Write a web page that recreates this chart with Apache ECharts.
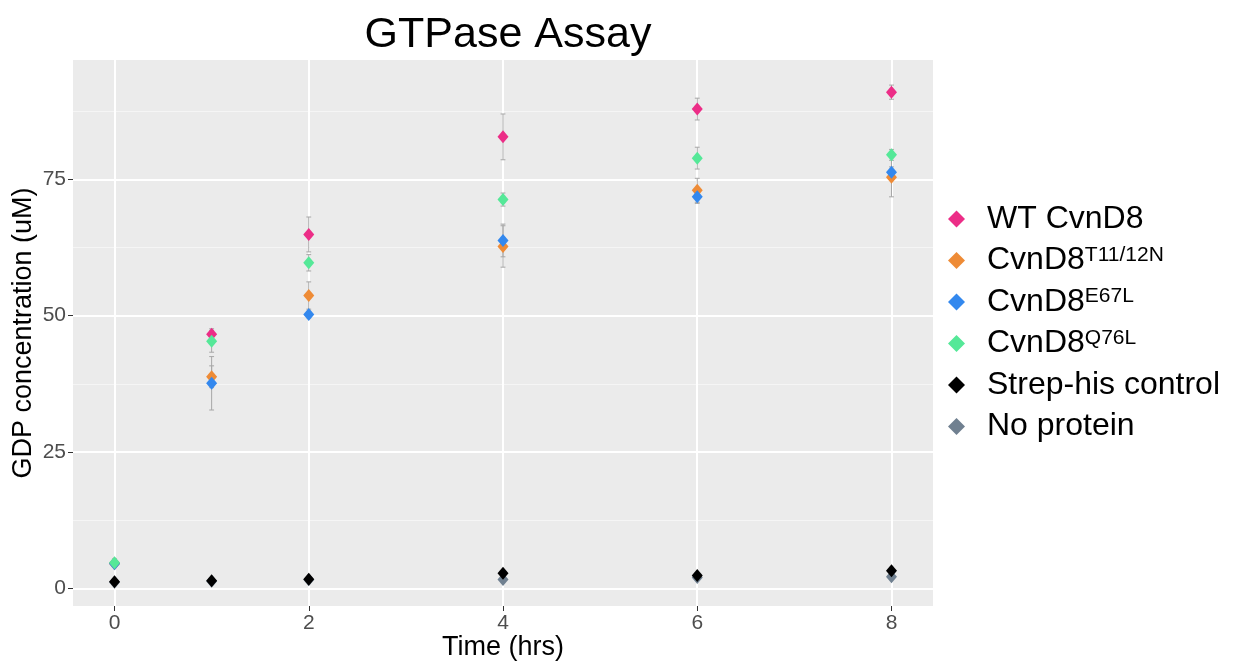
<!DOCTYPE html>
<html>
<head>
<meta charset="utf-8">
<script src="https://cdn.jsdelivr.net/npm/echarts@6/dist/echarts.min.js"></script>
<style>
  html, body { margin: 0; padding: 0; background: #fff; }
  #main { width: 1243px; height: 663px; }
</style>
</head>
<body>
<div id="main"></div>
<script>
// data
var times = [0, 1, 2, 4, 6, 8]
var names = ['WT CvnD8', 'CvnD8T11/12N', 'CvnD8E67L', 'CvnD8Q76L', 'Strep-his control', 'No protein']
var wt = [4.6, 46.6, 64.9, 82.8, 87.9, 91.0]
var wtSd = [0.5, 1.0, 3.2, 4.2, 2.0, 1.3]
var t11 = [4.5, 38.8, 53.7, 62.7, 73.0, 75.4]
var t11Sd = [0.5, 2.0, 2.5, 3.8, 2.2, 3.6]
var e67 = [4.5, 37.6, 50.2, 63.8, 71.8, 76.3]
var e67Sd = [0.4, 4.9, 0.6, 3.0, 1.2, 1.0]
var q76 = [4.7, 45.3, 59.7, 71.3, 78.9, 79.5]
var q76Sd = [0.7, 2.0, 1.5, 1.2, 2.0, 1.0]
var strep = [1.2, 1.4, 1.65, 2.75, 2.35, 3.2]
var strepSd = [0.2, 0.2, 0.2, 0.2, 0.2, 0.2]
var noProt = [1.1, 1.3, 1.55, 1.6, 2.0, 2.1]
var noProtSd = [0.1, 0.1, 0.1, 0.1, 0.1, 0.1]
var yTicks = [0, 25, 50, 75]
var yMinor = [12.5, 37.5, 62.5, 87.5]
var xTicks = [0, 2, 4, 6, 8]

var colors = ['#EC2D87', '#EE8B36', '#3388EE', '#55E898', '#000000', '#708090']
var values = [wt, t11, e67, q76, strep, noProt]
var sds = [wtSd, t11Sd, e67Sd, q76Sd, strepSd, noProtSd]

var font = 'Liberation Sans, Arial, sans-serif'

function pts(arr) {
    return times.map(function (t, i) { return [t, arr[i]] })
}

// all error bars as [x, low, high]
var errData = []
values.forEach(function (arr, k) {
    times.forEach(function (t, i) {
        errData.push([t, arr[i] - sds[k][i], arr[i] + sds[k][i]])
    })
})

var capHalf = 0.025

var chart = echarts.init(document.getElementById('main'))

// draw order: grey under black, green on top of the coloured ones
var drawOrder = [5, 0, 1, 2, 3, 4]
var series = [{
    name: 'errorbars',
    type: 'custom',
    z: 1,
    silent: true,
    data: errData,
    renderItem: function (params, api) {
        var x = api.value(0)
        var lo = api.coord([x, api.value(1)])
        var hi = api.coord([x, api.value(2)])
        var l1 = api.coord([x - capHalf, api.value(1)])
        var r1 = api.coord([x + capHalf, api.value(1)])
        var l2 = api.coord([x - capHalf, api.value(2)])
        var r2 = api.coord([x + capHalf, api.value(2)])
        var st = { stroke: '#A6A6A6', lineWidth: 1 }
        return {
            type: 'group',
            children: [
                { type: 'line', shape: { x1: lo[0], y1: lo[1], x2: hi[0], y2: hi[1] }, style: st },
                { type: 'line', shape: { x1: l1[0], y1: l1[1], x2: r1[0], y2: r1[1] }, style: st },
                { type: 'line', shape: { x1: l2[0], y1: l2[1], x2: r2[0], y2: r2[1] }, style: st }
            ]
        }
    }
}]
drawOrder.forEach(function (k, n) {
    series.push({
        name: names[k],
        type: 'scatter',
        symbol: 'diamond',
        symbolSize: [11, 13],
        z: 2 + n,
        itemStyle: { color: colors[k], opacity: 1 },
        data: pts(values[k])
    })
})

function legendText(name) {
    if (name.indexOf('CvnD8') === 0) {
        return '{b|CvnD8}{s|' + name.slice(5) + '}'
    }
    return '{b|' + name + '}'
}

var option = {
    backgroundColor: '#fff',
    animation: false,
    title: {
        text: 'GTPase Assay',
        left: 503,
        textAlign: 'center',
        top: 9,
        textStyle: { fontFamily: font, fontSize: 43, fontWeight: 'normal', color: '#000' }
    },
    legend: {
        data: names,
        orient: 'vertical',
        left: 943,
        top: 198,
        icon: 'diamond',
        itemWidth: 17,
        itemHeight: 17,
        itemGap: 9.5,
        formatter: legendText,
        textStyle: {
            fontFamily: font,
            color: '#000',
            rich: {
                b: { fontFamily: font, fontSize: 32, lineHeight: 32, color: '#000', padding: [0, 0, 0, 17] },
                s: { fontFamily: font, fontSize: 21, lineHeight: 24, color: '#000', verticalAlign: 'top' }
            }
        }
    },
    grid: {
        left: 73,
        right: 310,
        top: 60,
        bottom: 57,
        outerBoundsMode: 'none',
        show: true,
        backgroundColor: '#EBEBEB',
        borderWidth: 0
    },
    xAxis: {
        type: 'value',
        min: -0.4275,
        max: 8.4275,
        name: 'Time (hrs)',
        nameLocation: 'middle',
        nameGap: 28,
        nameMoveOverlap: false,
        nameTextStyle: { fontFamily: font, fontSize: 27, color: '#000', verticalAlign: 'top' },
        axisLine: { show: false, onZero: false },
        axisTick: { show: true, length: 5, customValues: xTicks, lineStyle: { color: '#333' } },
        axisLabel: { customValues: xTicks, margin: 7, fontFamily: font, fontSize: 21, color: '#4D4D4D' },
        splitLine: { show: true, lineStyle: { color: '#fff', width: 2 } }
    },
    yAxis: [{
        type: 'value',
        min: -3.25,
        max: 96.9,
        name: 'GDP concentration (uM)',
        nameLocation: 'middle',
        nameGap: 36,
        nameMoveOverlap: false,
        nameTextStyle: { fontFamily: font, fontSize: 27, color: '#000' },
        axisLine: { show: false, onZero: false },
        axisTick: { show: true, length: 5, customValues: yTicks, lineStyle: { color: '#333' } },
        axisLabel: { customValues: yTicks, margin: 7, fontFamily: font, fontSize: 21, color: '#4D4D4D' },
        splitLine: { show: true, lineStyle: { color: '#fff', width: 2 } },
        z: 1
    }, {
        // minor grid lines only
        type: 'value',
        min: -3.25,
        max: 96.9,
        position: 'left',
        axisLine: { show: false, onZero: false },
        axisTick: { show: false, customValues: yMinor },
        axisLabel: { show: false, customValues: yMinor },
        splitLine: { show: true, lineStyle: { color: '#F5F5F5', width: 1 } },
        z: 0
    }],
    series: series
}
chart.setOption(option)
</script>
</body>
</html>
